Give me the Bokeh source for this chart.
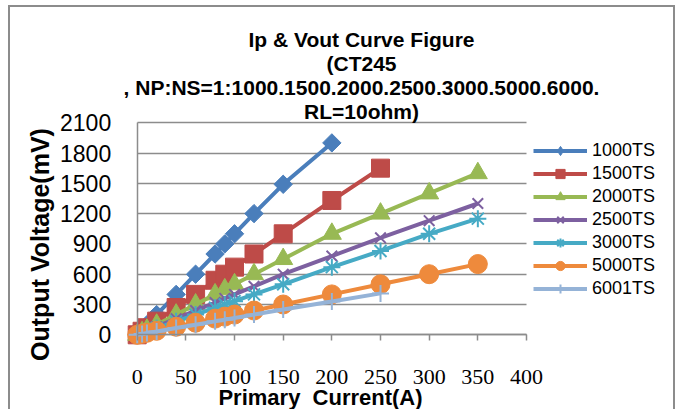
import math
from bokeh.plotting import figure
from bokeh.models import Range1d, Label, Legend, LegendItem, FixedTicker, ColumnDataSource
from bokeh.embed import file_html
from bokeh.resources import INLINE

# ---------------- data ----------------
series_names = ["1000TS", "1500TS", "2000TS", "2500TS", "3000TS", "5000TS", "6001TS"]

ip_1000 = [0, 5, 10, 20, 40, 60, 80, 90, 100, 120, 150, 200]
mv_1000 = [0, 50, 100, 200, 400, 600, 800, 900, 1000, 1200, 1490, 1900]

ip_1500 = [0, 5, 10, 20, 40, 60, 80, 90, 100, 120, 150, 200, 250]
mv_1500 = [0, 35, 70, 135, 270, 400, 540, 600, 670, 800, 1000, 1330, 1650]

ip_2000 = [0, 5, 10, 20, 40, 60, 80, 90, 100, 120, 150, 200, 250, 300, 350]
mv_2000 = [0, 25, 50, 100, 200, 300, 400, 450, 500, 600, 750, 1000, 1200, 1400, 1600]

ip_2500 = [0, 5, 10, 20, 40, 60, 80, 90, 100, 120, 150, 200, 250, 300, 350]
mv_2500 = [0, 20, 40, 80, 160, 240, 320, 360, 400, 480, 600, 780, 960, 1130, 1300]

ip_3000 = [0, 5, 10, 20, 40, 60, 80, 90, 100, 120, 150, 200, 250, 300, 350]
mv_3000 = [0, 17, 33, 67, 133, 200, 267, 300, 333, 400, 500, 670, 830, 1000, 1150]

ip_5000 = [0, 5, 10, 20, 40, 60, 80, 90, 100, 120, 150, 200, 250, 300, 350]
mv_5000 = [0, 10, 20, 40, 80, 120, 160, 180, 200, 240, 300, 400, 500, 600, 700]

ip_6001 = [0, 5, 10, 20, 40, 60, 80, 90, 100, 120, 150, 200, 250]
mv_6001 = [0, 8, 17, 33, 67, 100, 133, 150, 167, 200, 250, 330, 410]

x_ticks = [0, 50, 100, 150, 200, 250, 300, 350, 400]
y_ticks = [0, 300, 600, 900, 1200, 1500, 1800, 2100]

title_lines = ["Ip & Vout Curve Figure", "(CT245",
               ", NP:NS=1:1000.1500.2000.2500.3000.5000.6000.", "RL=10ohm)"]
x_title = "Primary\u00a0 Current(A)"
y_title = "Output Voltage(mV)"

# ---------------- styles ----------------
colors = ["#4A7EBB", "#BE4B48", "#98B954", "#7D60A0", "#46AAC5", "#EE8A3C", "#95B3D7"]
markers = ["square", "square", "triangle", "x", "asterisk", "circle", "cross"]
legend_markers = ["diamond", "square", "triangle", "x", "asterisk", "circle", "cross"]
angles = [math.pi / 4, 0, 0, 0, 0, 0, 0]
sizes = [13, 18, 19, 15, 17, 19, 17]
mlw = [1, 1, 1, 2, 2, 1, 2]

# canvas placement in the window (margin + border), and plot-area pixels
CX, CY = 10, 7
W, H = 667, 404
PX_X0, PX_X400 = 136.7, 526.0     # window px of x=0 and x=400
PX_Y0, PX_Y2100 = 334.3, 122.2    # window px of y=0 and y=2100
XMAX, YMAX = 400.0, 2100.0

kx = (PX_X400 - PX_X0) / XMAX
ky = (PX_Y0 - PX_Y2100) / YMAX


def dx(px):
    return (px - PX_X0) / kx


def dy(py):
    return (PX_Y0 - py) / ky


x_start, x_end = dx(CX), dx(CX + W)
y_end, y_start = dy(CY), dy(CY + H)

p = figure(width=W, height=H, x_range=Range1d(x_start, x_end),
           y_range=Range1d(y_start, y_end),
           output_backend="svg", toolbar_location=None,
           min_border_left=0, min_border_right=0,
           min_border_top=0, min_border_bottom=0)
p.styles = {"margin-left": "8px", "margin-top": "5px",
            "border-top": "2px solid #8c8c8c", "border-left": "2px solid #8c8c8c",
            "border-right": "2px solid #8c8c8c"}
p.outline_line_color = None
p.background_fill_color = "white"
p.border_fill_color = "white"

grid_col = "#8c8c8c"
p.xgrid.visible = False
p.ygrid.ticker = FixedTicker(ticks=y_ticks)
p.ygrid.grid_line_color = grid_col
p.ygrid.grid_line_width = 1.3
try:
    p.ygrid.cross_bounds = (0, XMAX)
except Exception:
    pass
try:
    p.ygrid.bounds = (0, YMAX)
except Exception:
    pass

xa = p.xaxis[0]
xa.fixed_location = 0
xa.bounds = (0, XMAX)
xa.ticker = FixedTicker(ticks=x_ticks)
xa.axis_line_color = grid_col
xa.axis_line_width = 1.5
xa.major_tick_line_color = grid_col
xa.major_tick_line_width = 1.5
xa.major_tick_in = 0
xa.major_tick_out = 6
xa.minor_tick_line_color = None
xa.major_label_standoff = 29
xa.major_label_text_font = "Liberation Serif"
xa.major_label_text_font_size = "22px"
xa.major_label_text_color = "black"

ya = p.yaxis[0]
ya.fixed_location = 0
ya.bounds = (0, YMAX)
ya.ticker = FixedTicker(ticks=y_ticks)
ya.axis_line_color = grid_col
ya.axis_line_width = 1.5
ya.major_tick_line_color = None
ya.major_tick_in = 0
ya.major_tick_out = 0
ya.minor_tick_line_color = None
ya.major_label_standoff = 26
ya.major_label_text_font = "Liberation Sans"
ya.major_label_text_font_size = "23px"
ya.major_label_text_color = "black"

xs = [ip_1000, ip_1500, ip_2000, ip_2500, ip_3000, ip_5000, ip_6001]
ys = [mv_1000, mv_1500, mv_2000, mv_2500, mv_3000, mv_5000, mv_6001]

items = []
for i, name in enumerate(series_names):
    src = ColumnDataSource(data=dict(x=xs[i], y=ys[i]))
    lr = p.line("x", "y", source=src, line_color=colors[i], line_width=4)
    kr = None
    if legend_markers[i] != markers[i]:
        # key marker: drawn at the same points but smaller, hidden under the main marker
        kr = p.scatter("x", "y", source=src, marker=legend_markers[i], size=sizes[i] - 2,
                       fill_color=colors[i], line_color=colors[i], line_width=mlw[i])
    sr = p.scatter("x", "y", source=src, marker=markers[i], size=sizes[i], angle=angles[i],
                   fill_color=colors[i], line_color=colors[i], line_width=mlw[i])
    items.append(LegendItem(label=name, renderers=[lr, kr if kr is not None else sr]))

legend = Legend(items=items, location=(533 - CX, (CY + H) - 300), padding=0, margin=0,
                spacing=0, glyph_width=54, glyph_height=23, label_height=23,
                label_standoff=5, border_line_color=None, background_fill_alpha=0,
                label_text_font="Liberation Sans", label_text_font_size="18px",
                label_text_color="black")
p.add_layout(legend, "center")

title_y = [39, 63, 87, 111]
for t, yy in zip(title_lines, title_y):
    p.add_layout(Label(x=dx(361), y=dy(yy), text=t, text_align="center",
                       text_baseline="middle", text_font="Liberation Sans",
                       text_font_style="bold", text_font_size="21px",
                       text_color="black"))

p.add_layout(Label(x=dx(320), y=dy(397), text=x_title, text_align="center",
                   text_baseline="middle", text_font="Liberation Sans",
                   text_font_style="bold", text_font_size="22px", text_color="black"))
p.add_layout(Label(x=dx(39), y=dy(244), text=y_title, text_align="center",
                   text_baseline="middle", angle=math.pi / 2, text_font="Liberation Sans",
                   text_font_style="bold", text_font_size="25px", text_color="black"))

open("out.html", "w").write(file_html(p, INLINE))
